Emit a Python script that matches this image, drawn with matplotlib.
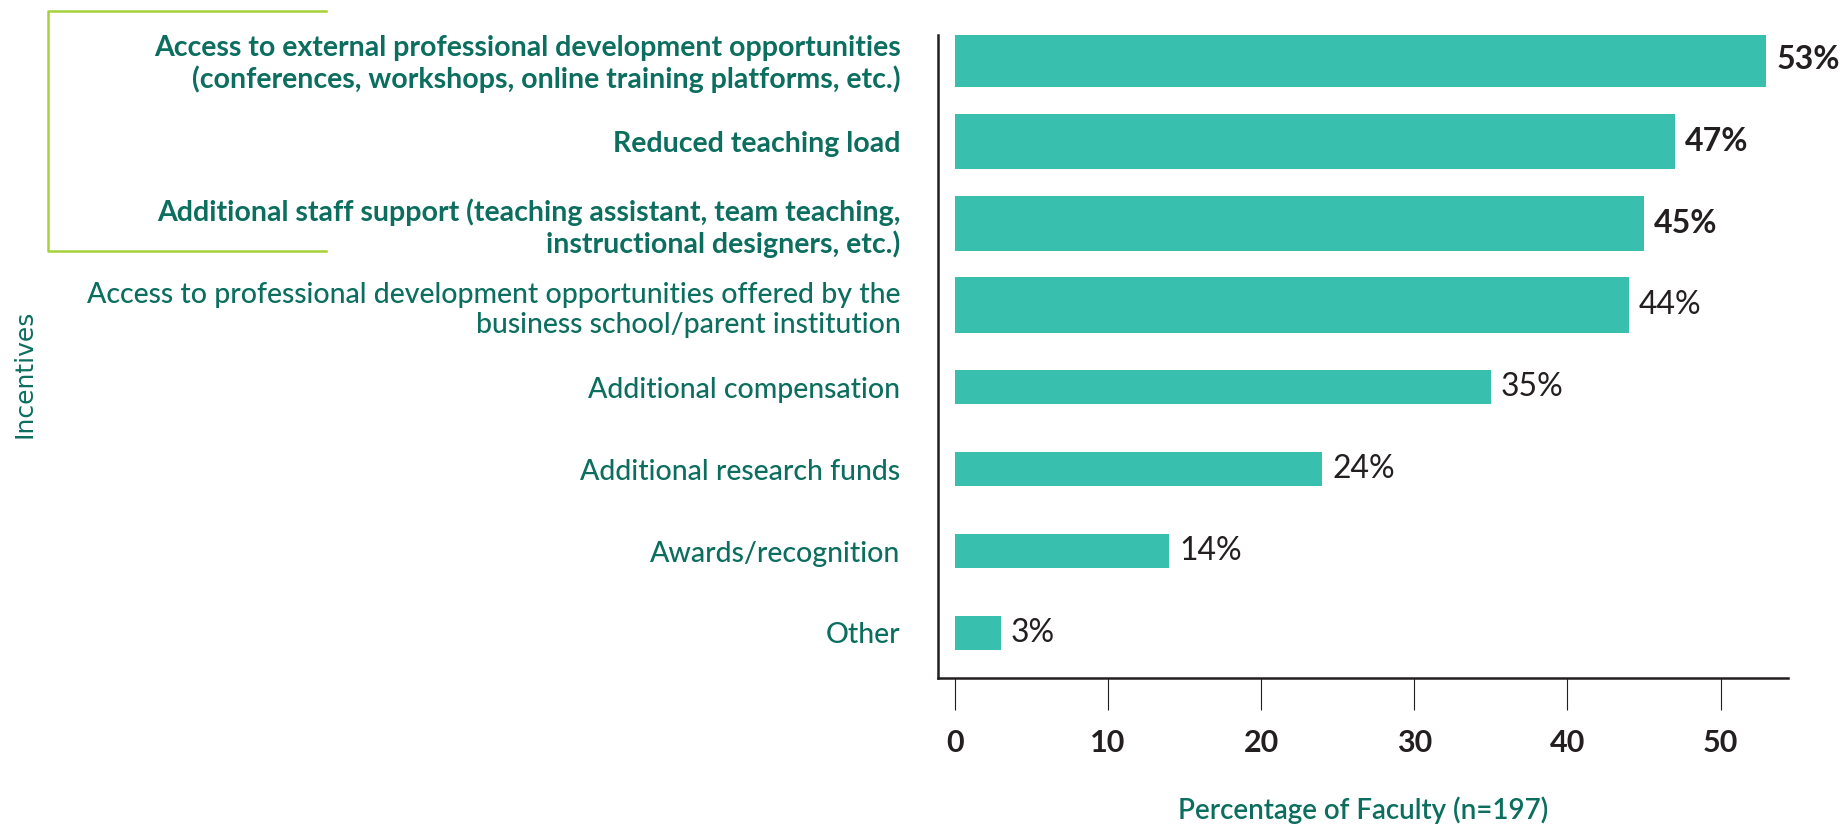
import numpy as np
import matplotlib
matplotlib.use("Agg")
import matplotlib.pyplot as plt
from matplotlib.lines import Line2D

plt.rcParams['font.family'] = ['Lato', 'DejaVu Sans']

categories = [
    "Access to external professional development opportunities\n(conferences, workshops, online training platforms, etc.)",
    "Reduced teaching load",
    "Additional staff support (teaching assistant, team teaching,\ninstructional designers, etc.)",
    "Access to professional development opportunities offered by the\nbusiness school/parent institution",
    "Additional compensation",
    "Additional research funds",
    "Awards/recognition",
    "Other",
]
values = [53, 47, 45, 44, 35, 24, 14, 3]
n_top = 3  # highlighted incentives
xticks = [0, 10, 20, 30, 40, 50]

bar_col = '#38bfad'
txt_col = '#0b6e5e'
dark = '#231f20'
lime = '#a6d13b'

fig = plt.figure(figsize=(18.47, 8.24), dpi=100)
ax = fig.add_axes([0.5078, 0.1772, 0.4602, 0.7803])

ypos = np.arange(len(values))
heights = [0.68 if i < 4 else 0.41 for i in ypos]
ax.barh(ypos, values, height=heights, color=bar_col, left=0)

for i, v in enumerate(values):
    ax.text(v + 0.65, i, f"{v}%", va='center', ha='left', fontsize=23,
            fontweight='bold' if i < n_top else 'normal', color=dark)

ax.set_xlim(-1.1, 54.4)
ax.set_ylim(7.55, -0.3)

ax.set_yticks(ypos)
ax.set_yticklabels(categories, fontsize=20.5, color=txt_col, linespacing=1.2)
for i, lab in enumerate(ax.get_yticklabels()):
    lab.set_fontweight('bold' if i < n_top else 'medium')
ax.tick_params(axis='y', length=0, pad=27)

ax.set_xticks(xticks)
ax.set_xticklabels([str(t) for t in xticks], fontsize=22, fontweight='bold', color=dark)
ax.tick_params(axis='x', direction='out', length=23, width=0.8, color=dark, pad=14)

for s in ['top', 'right']:
    ax.spines[s].set_visible(False)
for s in ['left', 'bottom']:
    ax.spines[s].set_linewidth(1.8)
    ax.spines[s].set_color(dark)

ax.set_xlabel("Percentage of Faculty (n=197)", fontsize=20, color=txt_col,
              fontweight='semibold', labelpad=28)
fig.text(0.0135, 0.546, "Incentives", rotation=90, va='center', ha='center',
         fontsize=18, color=txt_col, family='DejaVu Sans')

# bracket around the top three incentives
bx = [326 / 1847, 48 / 1847, 48 / 1847, 326 / 1847]
by = [1 - 10.5 / 824, 1 - 10.5 / 824, 1 - 251 / 824, 1 - 251 / 824]
fig.add_artist(Line2D(bx, by, color=lime, lw=1.8, transform=fig.transFigure))

fig.savefig('out.png', dpi=100)
